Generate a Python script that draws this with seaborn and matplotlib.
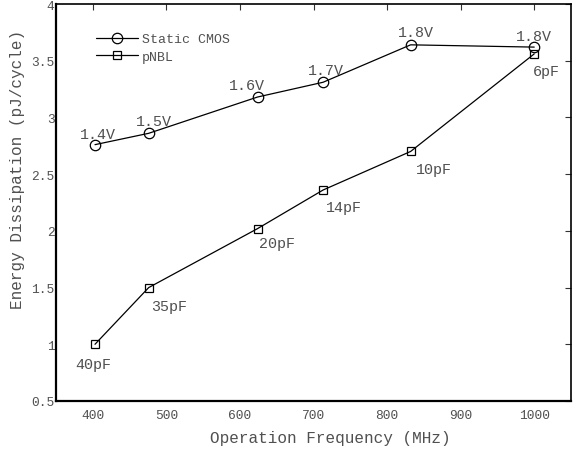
import matplotlib
matplotlib.use("Agg")
import matplotlib.pyplot as plt
import seaborn as sns
import pandas as pd

freq_cmos = [403, 476, 624, 713, 832, 1000]
energy_cmos = [2.76, 2.86, 3.18, 3.31, 3.64, 3.62]
labels_cmos = ["1.4V", "1.5V", "1.6V", "1.7V", "1.8V", "1.8V"]

freq_pnbl = [403, 476, 624, 713, 832, 1000]
energy_pnbl = [1.0, 1.5, 2.02, 2.36, 2.70, 3.56]
labels_pnbl = ["40pF", "35pF", "20pF", "14pF", "10pF", "6pF"]

x_ticks = [400, 500, 600, 700, 800, 900, 1000]
y_ticks = [0.5, 1, 1.5, 2, 2.5, 3, 3.5, 4]
y_ticklabels = ["0.5", "1", "1.5", "2", "2.5", "3", "3.5", "4"]

sns.set_style("white")
plt.rcParams["font.family"] = ["Liberation Mono", "DejaVu Sans Mono"]

df = pd.concat([
    pd.DataFrame({"freq": freq_cmos, "energy": energy_cmos, "series": "Static CMOS"}),
    pd.DataFrame({"freq": freq_pnbl, "energy": energy_pnbl, "series": "pNBL"}),
])

fig = plt.figure(figsize=(5.78, 4.52), dpi=100)
ax = fig.add_axes([56 / 578, 50 / 452, (571 - 56) / 578, (402 - 5) / 452])

sns.lineplot(data=df, x="freq", y="energy", hue="series", style="series",
             markers={"Static CMOS": "o", "pNBL": "s"}, dashes=False,
             palette={"Static CMOS": "black", "pNBL": "black"},
             linewidth=0.9, markerfacecolor="none", markeredgecolor="black",
             markeredgewidth=0.9, ax=ax, sort=False)
for ln in ax.get_lines():
    if ln.get_marker() == "o":
        ln.set_markersize(7.5)
    elif ln.get_marker() == "s":
        ln.set_markersize(5.5)

txt_color = "#505050"
off_cmos = [(2, 8), (4, 9), (-8, 9), (2, 9), (4, 9), (0, 8)]
off_pnbl = [(-1, -14.5), (15, -13.5), (14, -10.5), (15, -12.5), (17, -12.5), (9, -12.5)]
for x, y, s, o in zip(freq_cmos, energy_cmos, labels_cmos, off_cmos):
    ax.annotate(s, (x, y), xytext=o, textcoords="offset points",
                ha="center", va="center", fontsize=10.8, color=txt_color)
for x, y, s, o in zip(freq_pnbl, energy_pnbl, labels_pnbl, off_pnbl):
    ax.annotate(s, (x, y), xytext=o, textcoords="offset points",
                ha="center", va="center", fontsize=10.8, color=txt_color)

ax.set_xlim(350, 1050)
ax.set_ylim(0.5, 4)
ax.set_xticks(x_ticks)
ax.set_yticks(y_ticks)
ax.set_yticklabels(y_ticklabels)
ax.tick_params(direction="in", top=True, right=True, length=4, width=0.8,
               labelsize=9.3, labelcolor=txt_color, color="#333333")
ax.tick_params(axis="x", pad=6)
ax.tick_params(axis="y", pad=1)
for sp in ax.spines.values():
    sp.set_color("black")
    sp.set_linewidth(1.2)
ax.spines["left"].set_linewidth(1.6)
ax.spines["bottom"].set_linewidth(1.6)

ax.set_xlabel("Operation Frequency (MHz)", fontsize=11.5, color=txt_color)
ax.set_ylabel("Energy Dissipation (pJ/cycle)", fontsize=11.5, color=txt_color)
ax.yaxis.set_label_coords(-0.074, 0.587)
ax.xaxis.set_label_coords(0.533, -0.091)
ax.xaxis.label.set_va("center")
ax.yaxis.label.set_va("center")

leg = ax.legend(loc="upper left", bbox_to_anchor=(0.067, 0.94), frameon=False,
                fontsize=9.5, handlelength=3.2, handletextpad=0.3, labelspacing=0.4,
                borderaxespad=0)
for t in leg.get_texts():
    t.set_color(txt_color)

fig.savefig("out.png", dpi=100)
